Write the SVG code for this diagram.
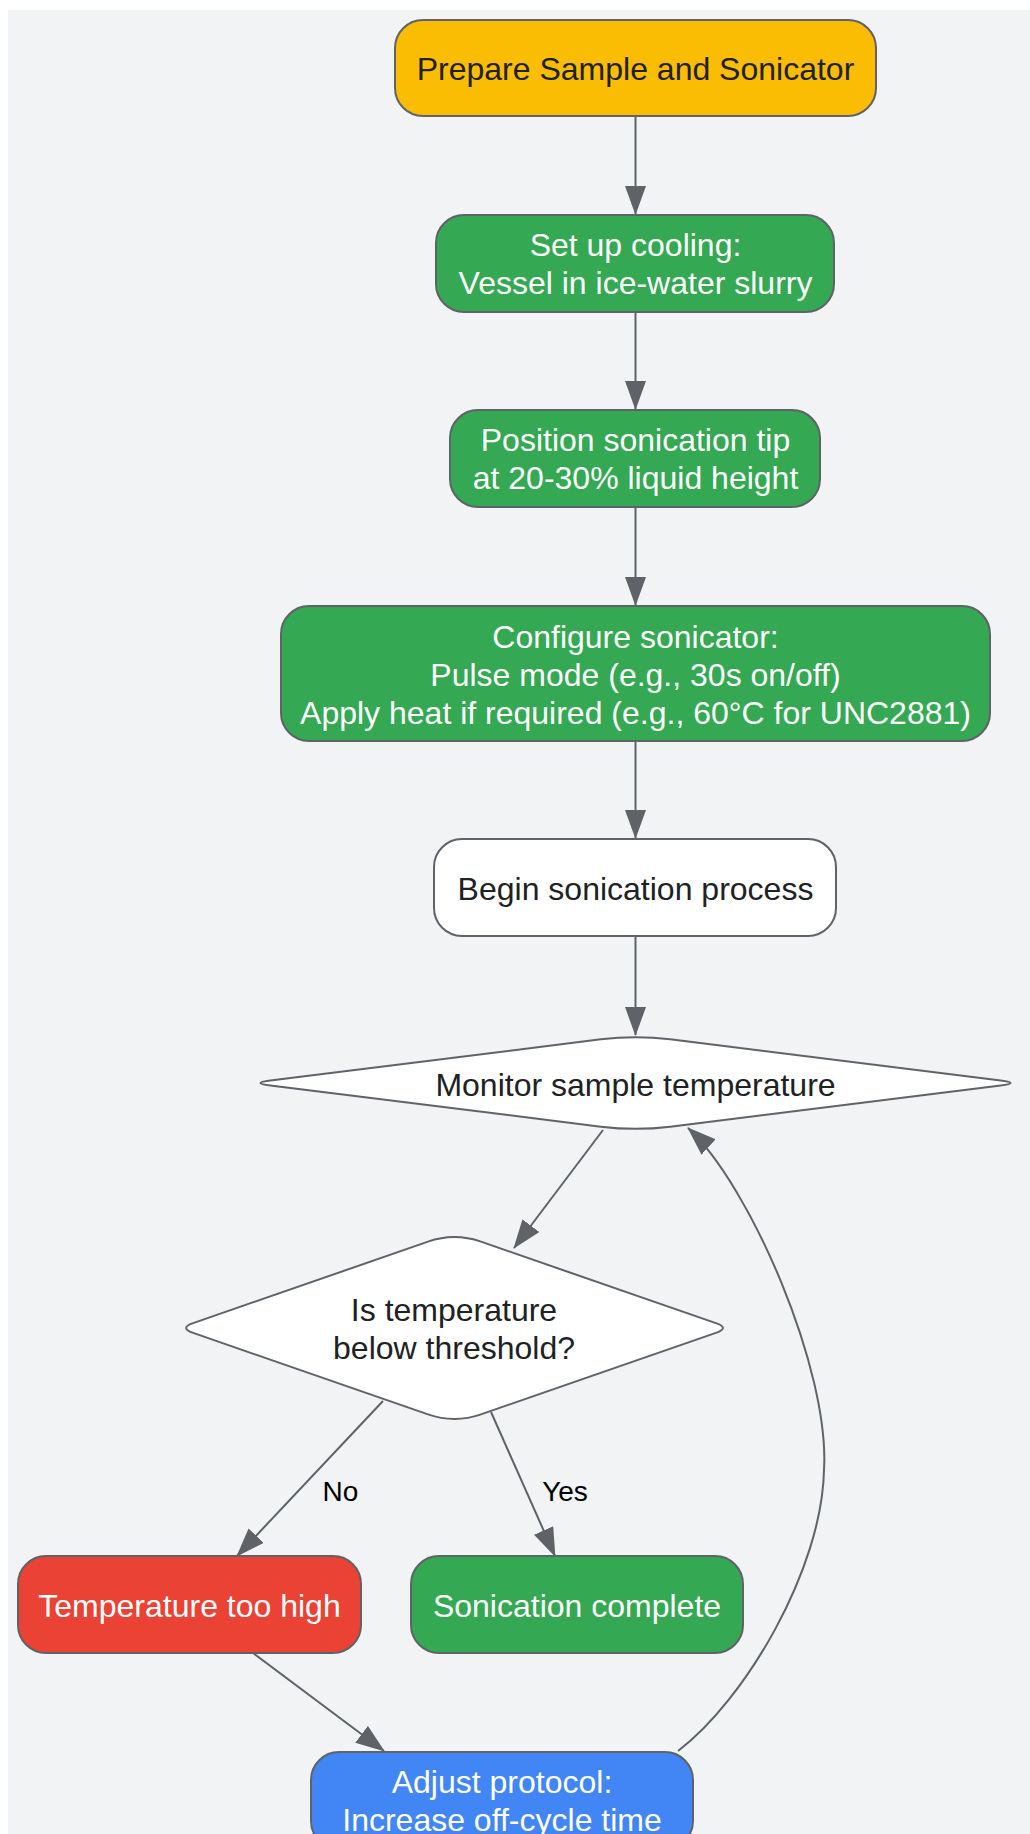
<svg xmlns="http://www.w3.org/2000/svg" width="1030" height="1834" viewBox="0 0 1030 1834">
<defs>
<style>
.node rect,.node path{stroke:#5f6368;stroke-width:2}
.t{font-family:"Liberation Sans",Arial,sans-serif;font-size:32px;text-anchor:middle}
.dk{fill:#202124}
.wt{fill:#ffffff}
.edge{fill:none;stroke:#5f6368;stroke-width:2;marker-end:url(#arr)}
.lbl{font-family:"Liberation Sans",Arial,sans-serif;font-size:28px;text-anchor:middle;fill:#000000}
</style>
<marker id="arr" viewBox="0 0 29 21" refX="28" refY="10.5" markerUnits="userSpaceOnUse" markerWidth="29" markerHeight="21" orient="auto">
<path d="M0,0 L29,10.5 L0,21 Z" fill="#5f6368"/>
</marker>
</defs>
<rect x="0" y="0" width="1030" height="1834" fill="#ffffff"/>
<rect x="8" y="10" width="1022" height="1824" fill="#f1f3f4"/>

<g id="connectors">
<path class="edge" d="M635.5,116 L635.5,214"/>
<path class="edge" d="M635.5,312 L635.5,409"/>
<path class="edge" d="M635.5,507 L635.5,605"/>
<path class="edge" d="M635.5,741 L635.5,838"/>
<path class="edge" d="M635.5,936 L635.5,1035"/>
<path class="edge" d="M603,1130 L514,1248"/>
<path class="edge" d="M383,1401 L237,1556"/>
<path class="edge" d="M491,1412 L555,1556"/>
<path class="edge" d="M253,1653 L384,1751"/>
<path class="edge" d="M678,1751 C745,1700 822,1570 824,1470 C830,1370 750,1185 688,1128"/>
<text class="lbl" x="340.5" y="1501">No</text>
<text class="lbl" x="565" y="1501">Yes</text>
</g>

<g id="prepare" class="node">
<rect x="395" y="20" width="481" height="96" rx="28" fill="#fbbc04"/>
<text class="t dk" x="635.5" y="79.5">Prepare Sample and Sonicator</text>
</g>
<g id="cooling" class="node">
<rect x="436" y="215" width="398" height="97" rx="28" fill="#34a853"/>
<text class="t wt" x="635.5" y="256">Set up cooling:</text>
<text class="t wt" x="635.5" y="294">Vessel in ice-water slurry</text>
</g>
<g id="position" class="node">
<rect x="450" y="410" width="370" height="97" rx="28" fill="#34a853"/>
<text class="t wt" x="635.5" y="451">Position sonication tip</text>
<text class="t wt" x="635.5" y="489">at 20-30% liquid height</text>
</g>
<g id="configure" class="node">
<rect x="281" y="606" width="709" height="135" rx="28" fill="#34a853"/>
<text class="t wt" x="635.5" y="647.5">Configure sonicator:</text>
<text class="t wt" x="635.5" y="685.5">Pulse mode (e.g., 30s on/off)</text>
<text class="t wt" x="635.5" y="723.5">Apply heat if required (e.g., 60°C for UNC2881)</text>
</g>
<g id="begin" class="node">
<rect x="434" y="839" width="402" height="97" rx="28" fill="#ffffff"/>
<text class="t dk" x="635.5" y="899.5">Begin sonication process</text>
</g>
<g id="monitor" class="node">
<path d="M600.8,1039.33 Q635.5,1035 670.2,1039.33 L1000.65,1080.53 Q1020.5,1083 1000.65,1085.47 L670.2,1126.67 Q635.5,1131 600.8,1126.67 L270.35,1085.47 Q250.5,1083 270.35,1080.53 Z" fill="#ffffff"/>
<text class="t dk" x="635.5" y="1095.5">Monitor sample temperature</text>
</g>
<g id="check" class="node">
<path d="M428.05,1241.67 Q454.5,1232.5 480.95,1241.67 L715.83,1323.09 Q730,1328 715.83,1332.91 L480.95,1414.33 Q454.5,1423.5 428.05,1414.33 L193.17,1332.91 Q179,1328 193.17,1323.09 Z" fill="#ffffff"/>
<text class="t dk" x="454" y="1320.5">Is temperature</text>
<text class="t dk" x="454" y="1358.5">below threshold?</text>
</g>
<g id="toohigh" class="node">
<rect x="18" y="1556" width="343" height="97" rx="28" fill="#ea4335"/>
<text class="t wt" x="189.5" y="1616.5">Temperature too high</text>
</g>
<g id="complete" class="node">
<rect x="411" y="1556" width="332" height="97" rx="28" fill="#34a853"/>
<text class="t wt" x="577" y="1616.5">Sonication complete</text>
</g>
<g id="adjust" class="node">
<rect x="311" y="1752" width="382" height="97" rx="28" fill="#4285f4"/>
<text class="t wt" x="502" y="1793">Adjust protocol:</text>
<text class="t wt" x="502" y="1831">Increase off-cycle time</text>
</g>
</svg>
